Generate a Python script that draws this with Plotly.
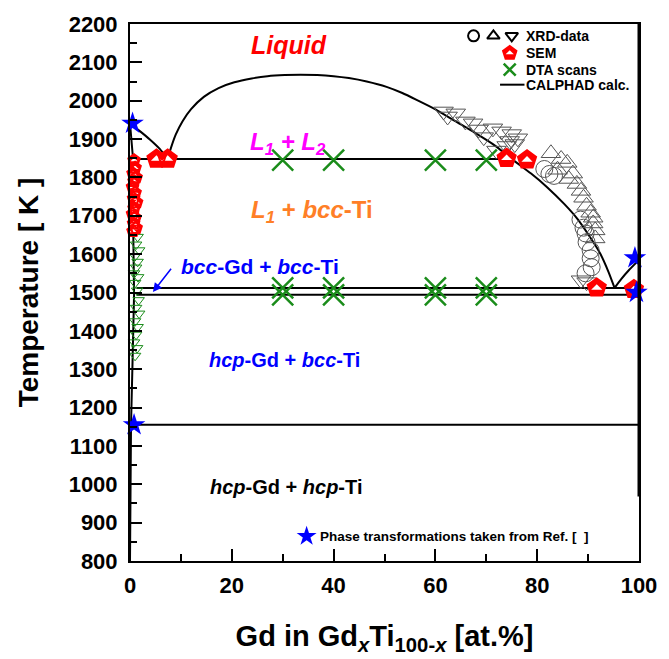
import plotly.graph_objects as go

# ---------------- CALPHAD phase boundaries (x: at.% Gd, T: K) ----------------
liq_ti_x = [0.0, 2.0, 3.9, 5.8, 7.4]
liq_ti_T = [1941, 1920, 1899, 1875, 1848]

gap_x = [7.4, 8.0, 9.0, 10.3, 12.0, 14.5, 17.4, 20.5, 23.9, 27.0, 30.4, 33.5, 36.8,
         40.0, 43.0, 46.5, 50.4, 53.5, 56.2, 60.1, 64.0, 67.8, 71.7, 74.9, 78.8,
         82.0, 85.3, 87.9, 90.4, 92.4, 94.0, 95.2]
gap_T = [1848, 1875, 1912, 1946, 1978, 2010, 2033, 2048, 2058, 2064, 2067, 2068, 2067,
         2064, 2059, 2050, 2036, 2020, 2003, 1977, 1946, 1916, 1883, 1849, 1810,
         1774, 1731, 1692, 1644, 1601, 1554, 1512]

liq_gd_x = [95.2, 96.5, 98.0, 100.0]
liq_gd_T = [1512, 1535, 1558, 1585]

solvus_ti_x = [0.0, 0.6, 0.6, 0.8, 0.8, 0.5, 0.2, 0.0]
solvus_ti_T = [1941, 1848, 1700, 1512, 1494, 1320, 1155, 800]

mono_x, mono_T = [0.9, 74.9], 1848
eut_x, eut_T = [1.3, 100.0], 1512
eutd_x, eutd_T = [1.3, 100.0], 1494
ti_tr_x, ti_tr_T = [0.0, 100.0], 1155

# ---------------- XRD data ----------------
xrd_down_x = [61.6, 62.4, 64.0, 65.9, 67.4, 68.5, 71.3, 73.0, 75.0, 74.6, 75.6, 74.0,
              76.2, 69.5, 72.0, 88.6, 89.7]
xrd_down_T = [1972, 1959, 1967, 1946, 1941, 1925, 1928, 1920, 1913, 1895, 1887, 1882,
              1902, 1905, 1870, 1532, 1527]
xrd_up_x = [82.7, 84.7, 85.9, 86.2, 87.8, 88.6, 89.1, 89.7, 90.5, 91.0, 91.0, 91.4,
            91.4, 84.0, 87.0]
xrd_up_T = [1863, 1848, 1838, 1796, 1783, 1765, 1747, 1726, 1708, 1695, 1680, 1662,
            1641, 1820, 1810]
xrd_circ_x = [81.4, 82.4, 83.3, 89.1, 89.5, 89.7, 90.5, 90.5, 90.7, 89.5, 88.5]
xrd_circ_T = [1822, 1809, 1804, 1669, 1654, 1631, 1610, 1589, 1566, 1550, 1690]

# XRD data of the Ti-rich bcc/hcp solid solution
xrd_ti_x = [1.5, 1.2, 1.8, 1.0, 1.5, 1.2, 0.8, 1.6, 1.0, 1.4, 1.7, 1.2, 1.8, 1.0,
            1.5, 1.2, 0.8, 1.4, 1.0]
xrd_ti_T = [1645, 1625, 1610, 1595, 1580, 1565, 1550, 1540, 1525, 1505, 1480, 1460,
            1445, 1425, 1410, 1390, 1370, 1355, 1335]

# ---------------- SEM data ----------------
sem_x = [5.2, 7.4, 74.0, 78.0, 91.7, 99.0,
         0.8, 1.0, 0.6, 1.2, 0.8, 0.5, 1.0, 0.7, 1.3, 0.8, 0.5, 1.0, 0.7, 1.2, 0.6]
sem_T = [1848, 1848, 1850, 1846, 1512, 1508,
         1845, 1825, 1810, 1800, 1790, 1775, 1760, 1745, 1735, 1720, 1705, 1695,
         1680, 1668, 1660]

# ---------------- DTA scans ----------------
dta_x = [30, 40, 60, 70, 30, 40, 60, 70, 30, 40, 60, 70]
dta_T = [1845, 1845, 1845, 1845, 1512, 1512, 1512, 1512, 1494, 1494, 1494, 1494]

# ---------------- literature transformations ----------------
ref_x = [0.5, 0.8, 99.2, 99.5]
ref_T = [1941, 1155, 1590, 1500]

FONT = "Liberation Sans, Arial, sans-serif"
RED = "#ff0000"
GREEN = "#1a8c1a"
BLUE = "#0000ff"
GREY = "#555555"

fig = go.Figure()

line_style = dict(color="black", width=2)
for xs, ts, shp in [(liq_ti_x, liq_ti_T, "spline"), (gap_x, gap_T, "spline"),
                    (liq_gd_x, liq_gd_T, "spline"), (solvus_ti_x, solvus_ti_T, "linear")]:
    fig.add_trace(go.Scatter(x=xs, y=ts, mode="lines",
                             line=dict(color="black", width=2, shape=shp, smoothing=0.6),
                             showlegend=False, hoverinfo="skip"))
for xs, t in [(mono_x, mono_T), (eut_x, eut_T), (eutd_x, eutd_T), (ti_tr_x, ti_tr_T)]:
    fig.add_trace(go.Scatter(x=xs, y=[t] * len(xs), mode="lines", line=line_style,
                             showlegend=False, hoverinfo="skip"))

# XRD markers
for xs, ts, sym in [(xrd_down_x, xrd_down_T, "triangle-down-open"),
                    (xrd_up_x, xrd_up_T, "triangle-up-open"),
                    (xrd_circ_x, xrd_circ_T, "circle-open")]:
    fig.add_trace(go.Scatter(x=xs, y=ts, mode="markers", showlegend=False,
                             marker=dict(symbol=sym, size=17, color=GREY,
                                         line=dict(width=1, color=GREY))))
fig.add_trace(go.Scatter(x=xrd_ti_x, y=xrd_ti_T, mode="markers", showlegend=False,
                         cliponaxis=False,
                         marker=dict(symbol="triangle-down-open", size=10, color=GREEN,
                                     line=dict(width=1, color=GREEN))))


def sem_marker_traces(xs, ys, size, xaxis="x", yaxis="y"):
    """Red pentagon with white 'roof' and filled lower part."""
    r = size / 2.0
    common = dict(mode="markers", showlegend=False, hoverinfo="skip",
                  cliponaxis=False, xaxis=xaxis, yaxis=yaxis)
    return [
        go.Scatter(x=xs, y=ys, marker=dict(symbol="pentagon", size=size, color=RED,
                                           line=dict(width=0)), **common),
        go.Scatter(x=xs, y=ys, marker=dict(symbol="triangle-ne", size=r * 0.92,
                                           angle=-45, color="white",
                                           line=dict(width=0)), **common),
        go.Scatter(x=xs, y=ys, marker=dict(symbol="pentagon-open", size=size, color=RED,
                                           line=dict(width=2, color=RED)), **common),
    ]


for tr in sem_marker_traces(sem_x[:6], sem_T[:6], 19):
    fig.add_trace(tr)
for tr in sem_marker_traces(sem_x[6:], sem_T[6:], 12):
    fig.add_trace(tr)

fig.add_trace(go.Scatter(x=dta_x, y=dta_T, mode="markers", showlegend=False,
                         marker=dict(symbol="x-thin", size=21,
                                     line=dict(width=2.5, color=GREEN))))
fig.add_trace(go.Scatter(x=ref_x, y=ref_T, mode="markers", showlegend=False,
                         cliponaxis=False,
                         marker=dict(symbol="star", size=17, color=BLUE,
                                     line=dict(width=0))))

# ---------------- legend (drawn on a helper axis spanning the plot area) ----------------
leg_y = [0.978, 0.946, 0.915]
fig.add_trace(go.Scatter(x=[0.675, 0.714, 0.750], y=[leg_y[0]] * 3, mode="markers",
                         xaxis="x2", yaxis="y2", showlegend=False, cliponaxis=False,
                         marker=dict(symbol=["circle-open", "triangle-up-open",
                                             "triangle-down-open"],
                                     size=11, color="black",
                                     line=dict(width=2, color="black"))))
for tr in sem_marker_traces([0.746], [leg_y[1]], 14, "x2", "y2"):
    fig.add_trace(tr)
fig.add_trace(go.Scatter(x=[0.746], y=[leg_y[2]], mode="markers", xaxis="x2", yaxis="y2",
                         showlegend=False, cliponaxis=False,
                         marker=dict(symbol="x-thin", size=12,
                                     line=dict(width=2.5, color=GREEN))))
fig.add_trace(go.Scatter(x=[0.347], y=[0.046], mode="markers", xaxis="x2", yaxis="y2",
                         showlegend=False, cliponaxis=False,
                         marker=dict(symbol="star", size=15, color=BLUE,
                                     line=dict(width=0))))

legend_texts = ["XRD-data", "SEM", "DTA scans", "CALPHAD calc."]
annotations = []
for i, txt in enumerate(legend_texts):
    annotations.append(dict(x=0.775, y=[0.978, 0.946, 0.915, 0.887][i], xref="paper",
                            yref="paper", text=txt, showarrow=False, xanchor="left",
                            yanchor="middle",
                            font=dict(family=FONT, size=14, color="black", weight="bold")))
annotations.append(dict(x=0.370, y=0.046, xref="paper", yref="paper",
                        text="Phase transformations taken from Ref. [  ]", showarrow=False,
                        xanchor="left", yanchor="middle",
                        font=dict(family=FONT, size=13.5, color="black", weight="bold")))

# ---------------- phase-field labels ----------------
def label(x, y, text, color, size):
    return dict(x=x, y=y, xref="x", yref="y", text=text, showarrow=False,
                font=dict(family=FONT, size=size, color=color, weight="bold"))


annotations += [
    label(31.2, 2146, "<i>Liquid</i>", RED, 25),
    label(31.0, 1889, "<i>L</i><sub><i>1</i></sub><i> + L</i><sub><i>2</i></sub>",
          "#ff00ff", 24),
    label(35.8, 1711, "<i>L</i><sub><i>1</i></sub> + <i>bcc</i>-Ti", "#ff7f27", 24),
    label(25.6, 1568, "<i>bcc</i>-Gd + <i>bcc</i>-Ti", BLUE, 21),
    label(30.4, 1323, "<i>hcp</i>-Gd + <i>bcc</i>-Ti", BLUE, 20),
    label(30.6, 994, "<i>hcp</i>-Gd + <i>hcp</i>-Ti", "black", 20),
    dict(x=4.5, y=1501, ax=8.3, ay=1566, xref="x", yref="y", axref="x", ayref="y",
         text="", showarrow=True, arrowhead=2, arrowsize=1.2, arrowwidth=1.5,
         arrowcolor=BLUE),
]

shapes = [
    dict(type="line", xref="paper", yref="paper", x0=0.727, x1=0.775, y0=0.887, y1=0.887,
         line=dict(color="black", width=2)),
    dict(type="line", xref="paper", yref="paper", x0=1, x1=1, y0=0.12, y1=1,
         line=dict(color="black", width=3)),
]

axis_common = dict(showline=True, linecolor="black", linewidth=2, mirror=True,
                   ticks="inside", ticklen=12, tickwidth=2, tickcolor="black",
                   showgrid=False, zeroline=False,
                   tickfont=dict(family=FONT, size=22, color="black", weight="bold"))

fig.update_layout(
    width=669, height=659,
    margin=dict(l=130, r=23, t=22, b=96),
    paper_bgcolor="white", plot_bgcolor="white",
    showlegend=False,
    xaxis=dict(range=[0, 100], tickvals=[0, 20, 40, 60, 80, 100],
               ticklabelstandoff=4,
               minor=dict(tickvals=[10, 30, 50, 70, 90], ticklen=7, tickwidth=2,
                          ticks="inside", tickcolor="black", showgrid=False),
               title=dict(text="Gd in Gd<sub><i>x</i></sub>Ti<sub>100-<i>x</i></sub> [at.%]",
                          font=dict(family=FONT, size=29, color="black", weight="bold"),
                          standoff=28),
               **axis_common),
    yaxis=dict(range=[800, 2200], dtick=100,
               ticklabelstandoff=6,
               minor=dict(tickvals=list(range(850, 2200, 100)), ticklen=7, tickwidth=2,
                          ticks="inside", tickcolor="black", showgrid=False),
               title=dict(text="Temperature [ K ]",
                          font=dict(family=FONT, size=28, color="black", weight="bold"),
                          standoff=22),
               **axis_common),
    xaxis2=dict(range=[0, 1], overlaying="x", visible=False, anchor="y2"),
    yaxis2=dict(range=[0, 1], overlaying="y", visible=False, anchor="x2"),
    annotations=annotations,
    shapes=shapes,
)

fig.write_html("out.html")
